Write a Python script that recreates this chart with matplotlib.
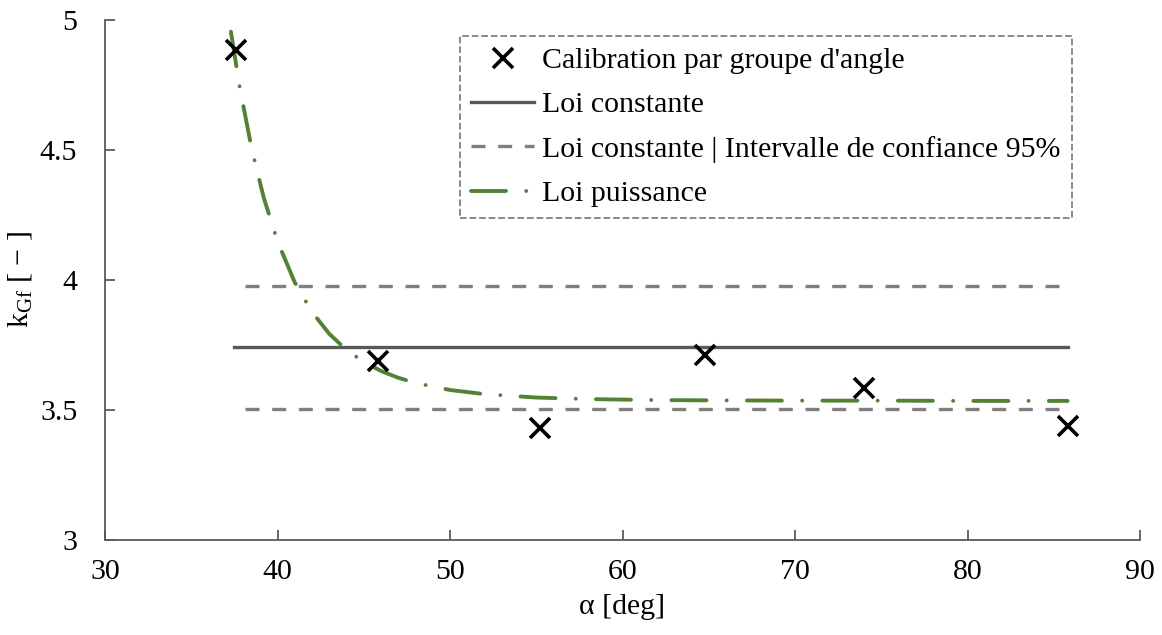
import numpy as np
import matplotlib
matplotlib.use('Agg')
import matplotlib.pyplot as plt

plt.rcParams.update({'font.size': 21.5, 'font.family': 'Liberation Serif',
                     'mathtext.fontset': 'custom',
                     'mathtext.rm': 'Liberation Serif',
                     'mathtext.it': 'Liberation Serif:italic'})

# calibration par groupe d'angle
alpha_pts = [37.6, 45.8, 55.2, 64.8, 74.0, 85.8]
k_pts = [4.885, 3.69, 3.43, 3.71, 3.585, 3.44]

# loi constante + IC 95%
x_const = [37.5, 85.8]
k_const = 3.742
x_ic = [38.1, 85.8]
k_ic_low = 3.504
k_ic_high = 3.977

# loi puissance
alpha_pow = [37.3, 37.8, 38.5, 39.2, 40, 41, 42, 43, 44, 45, 46, 47, 48,
             50, 52, 55, 58, 62, 66, 70, 75, 80, 85.8]
k_pow = [4.955, 4.745, 4.506, 4.317, 4.149, 3.991, 3.877, 3.793, 3.731,
         3.685, 3.650, 3.624, 3.604, 3.577, 3.561, 3.548, 3.542, 3.538,
         3.537, 3.536, 3.536, 3.535, 3.535]

fig = plt.figure(figsize=(11.62, 6.35), dpi=100)
ax = fig.add_axes([105 / 1162, 1 - 540 / 635, (1140 - 105) / 1162, 520 / 635])

ax.plot(alpha_pts, k_pts, linestyle='none', marker='x', color='black',
        markersize=14, markeredgewidth=2.6, label="Calibration par groupe d'angle", zorder=5)
ax.plot(x_const, [k_const, k_const], color='#595959', linewidth=2.4, label='Loi constante')
ax.plot(x_ic, [k_ic_high, k_ic_high], color='#808080', linewidth=2.4,
        dashes=(4.2, 3.8), label='Loi constante | Intervalle de confiance 95%')
ax.plot(x_ic, [k_ic_low, k_ic_low], color='#808080', linewidth=2.4, dashes=(4.2, 3.8))
ax.plot(alpha_pow, k_pow, color='#548235', linewidth=2.8, dashes=(9, 5.2, 0.01, 5.2),
        dash_capstyle='round', label='Loi puissance', zorder=4)

ax.set_xlim(30, 90)
ax.set_ylim(3, 5)
ax.set_xticks(range(30, 91, 10))
ax.set_yticks([3, 3.5, 4, 4.5, 5])
ax.set_yticklabels(['3', '3.5', '4', '4.5', '5'])
ax.tick_params(direction='in', length=7, width=1.3, color='#595959')
ax.tick_params(axis='y', pad=20)
ax.tick_params(axis='x', pad=14)
for s in ['top', 'right']:
    ax.spines[s].set_visible(False)
for s in ['left', 'bottom']:
    ax.spines[s].set_color('#595959')
    ax.spines[s].set_linewidth(1.3)

ax.set_xlabel(r'α [deg]', labelpad=6)
ax.set_ylabel(r'k$_{\mathrm{Gf}}$ [ − ]', labelpad=4)

leg = ax.legend(loc='upper right', bbox_to_anchor=(1072 / 1162, 1 - 36 / 635),
                bbox_transform=fig.transFigure, borderaxespad=0, fancybox=False,
                handlelength=2.1, handletextpad=0.28, labelspacing=0.58,
                borderpad=0.38, fontsize=21.5)
fr = leg.get_frame()
fr.set_linestyle('--')
fr.set_edgecolor('#808080')
fr.set_linewidth(1.3)
fr.set_alpha(1)

fig.savefig('out.png', dpi=100)
